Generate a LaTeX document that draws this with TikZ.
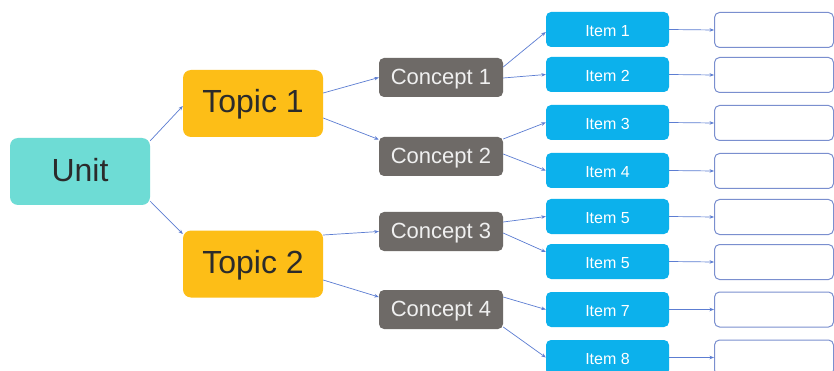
\documentclass[tikz,border=0pt]{standalone}
\usepackage{fontspec}
\setmainfont{Liberation Sans}
\usetikzlibrary{arrows.meta}
\definecolor{unitc}{HTML}{6EDCD5}
\definecolor{topicc}{HTML}{FDBE17}
\definecolor{conceptc}{HTML}{6E6A67}
\definecolor{itemc}{HTML}{0CB1EC}
\definecolor{arrc}{HTML}{5C7DD2}
\definecolor{boxc}{HTML}{7A8FCF}
\definecolor{darktext}{HTML}{2B2B2B}
\tikzset{
  unitbox/.style={fill=unitc, draw=none, rounded corners=8pt, inner sep=0pt,
    minimum width=140pt, minimum height=67pt, text=darktext,
    text height=20pt, text depth=0pt,
    font=\fontsize{32}{38}\selectfont},
  topicbox/.style={fill=topicc, draw=none, rounded corners=8pt, inner sep=0pt,
    minimum width=140pt, minimum height=67pt, text=darktext,
    text height=19pt, text depth=0pt,
    font=\fontsize{32}{38}\selectfont},
  conceptbox/.style={fill=conceptc, draw=none, rounded corners=5pt, inner sep=0pt,
    minimum width=124pt, minimum height=39pt, text=white!94!black,
    text height=14.8pt, text depth=0pt,
    font=\fontsize{22}{26}\selectfont},
  itembox/.style={fill=itemc, draw=none, rounded corners=5pt, inner sep=0pt,
    minimum width=123pt, minimum height=35pt, text=white,
    text height=14pt, text depth=0pt,
    font=\fontsize{16}{19}\selectfont},
  emptybox/.style={fill=white, draw=boxc, line width=1pt, rounded corners=5pt,
    inner sep=0pt, minimum width=119pt, minimum height=35pt},
  link/.style={draw=arrc, line width=0.7pt, -{Stealth[length=4.5pt,width=3.5pt]}}
}
\begin{document}
\begin{tikzpicture}[x=1pt,y=-1pt]
\clip (0,0) rectangle (834,371);
\fill[white] (0,0) rectangle (834,371);
\node[unitbox] (unit) at (80,171.5) {Unit};
\node[topicbox] (t1) at (253,103.5) {Topic 1};
\node[topicbox] (t2) at (253,264) {Topic 2};
\node[conceptbox] (c1) at (441,77.5) {Concept 1};
\node[conceptbox] (c2) at (441,156.5) {Concept 2};
\node[conceptbox] (c3) at (441,231.5) {Concept 3};
\node[conceptbox] (c4) at (441,309.5) {Concept 4};
\node[itembox] (i1) at (607.5,29.5) {Item 1};
\node[itembox] (i2) at (607.5,74.5) {Item 2};
\node[itembox] (i3) at (607.5,122.5) {Item 3};
\node[itembox] (i4) at (607.5,170.5) {Item 4};
\node[itembox] (i5) at (607.5,216.5) {Item 5};
\node[itembox] (i6) at (607.5,261.5) {Item 5};
\node[itembox] (i7) at (607.5,309.5) {Item 7};
\node[itembox] (i8) at (607.5,357.5) {Item 8};
\foreach \n/\y in {1/30,2/75,3/123,4/171,5/217,6/262,7/309.5,8/357.5}{
  \node[emptybox] (b\n) at (774,\y) {};
}
\draw[link] ([yshift=-3pt]unit.north east) -- ([yshift=-2.5pt]t1.west);
\draw[link] ([yshift=4pt]unit.south east) -- ([yshift=30pt]t2.west);
\draw[link] ([yshift=10.5pt]t1.east) -- (c1.west);
\draw[link] ([yshift=-14.5pt]t1.east) -- ([yshift=17pt]c2.west);
\draw[link] ([yshift=29pt]t2.east) -- (c3.west);
\draw[link] ([yshift=-16pt]t2.east) -- ([yshift=12.5pt]c4.west);
\draw[link] ([yshift=10.5pt]c1.east) -- ([yshift=-2.5pt]i1.west);
\draw[link] ([yshift=-0.5pt]c1.east) -- (i2.west);
\draw[link] ([yshift=17.5pt]c2.east) -- (i3.west);
\draw[link] ([yshift=2.5pt]c2.east) -- (i4.west);
\draw[link] ([yshift=9.5pt]c3.east) -- (i5.west);
\draw[link] ([yshift=-1.5pt]c3.east) -- ([yshift=9.5pt]i6.west);
\draw[link] ([yshift=12.5pt]c4.east) -- (i7.west);
\draw[link] ([yshift=-17.5pt]c4.east) -- (i8.west);
\foreach \n in {1,...,8}{
  \draw[link] (i\n.east) -- (b\n.west);
}
\end{tikzpicture}
\end{document}
